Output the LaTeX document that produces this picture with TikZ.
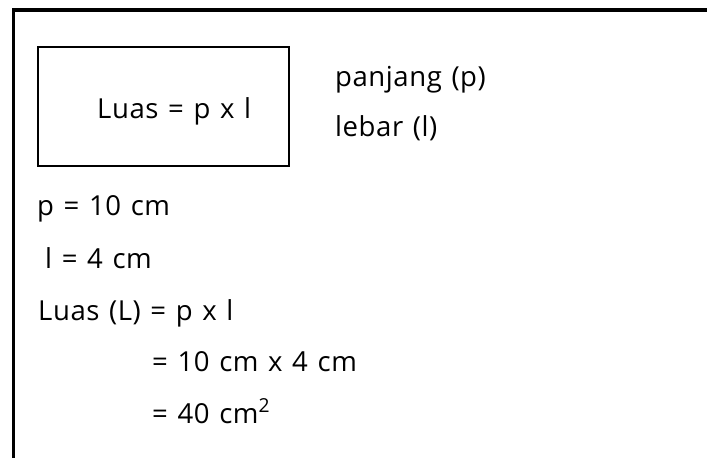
\documentclass[tikz,border=0pt]{standalone}
\usepackage{fontspec}
\setmainfont{Open Sans}[LetterSpace=2,WordSpace=1.25]
\usetikzlibrary{positioning}

\tikzset{
  teks/.style={anchor=base west,inner sep=0pt,font=\fontsize{23.5}{28}\selectfont},
  kotak/.style={draw,line width=1.3pt,minimum width=7.53cm,minimum height=3.57cm,inner sep=0pt}
}

\begin{document}
\begin{tikzpicture}[x=0.03cm,y=-0.03cm]
  \useasboundingbox (0,0) rectangle (707,458);
  % bingkai luar (terpotong di kanan dan bawah)
  \coordinate (bawahkiri) at (13.5,460);
  \coordinate (atas) at (13.5,10);
  \coordinate (kanan) at (709,10);
  \draw[line width=3pt] (bawahkiri)--(atas)--(kanan);

  % kotak rumus
  \node[kotak] (rumus) at (163.5,106.5) {};
  \node[teks] (rumusteks) at (97,119) {Luas = p x l};
  \node[teks] (panjang) at (335,87) {panjang (p)};
  \node[teks] (lebar) at (335,137) {lebar (l)};

  % perhitungan
  \node[teks] (nilaip) at (37,216) {p = 10 cm};
  \node[teks] (nilail) at (45,268) {l = 4 cm};
  \node[teks] (luas) at (38,320) {Luas (L) = p x l};
  \node[teks] (langkah) at (152,371) {= 10 cm x 4 cm};
  \node[teks] (hasil) at (152,423) {= 40 cm\textsuperscript{2}};
\end{tikzpicture}
\end{document}
